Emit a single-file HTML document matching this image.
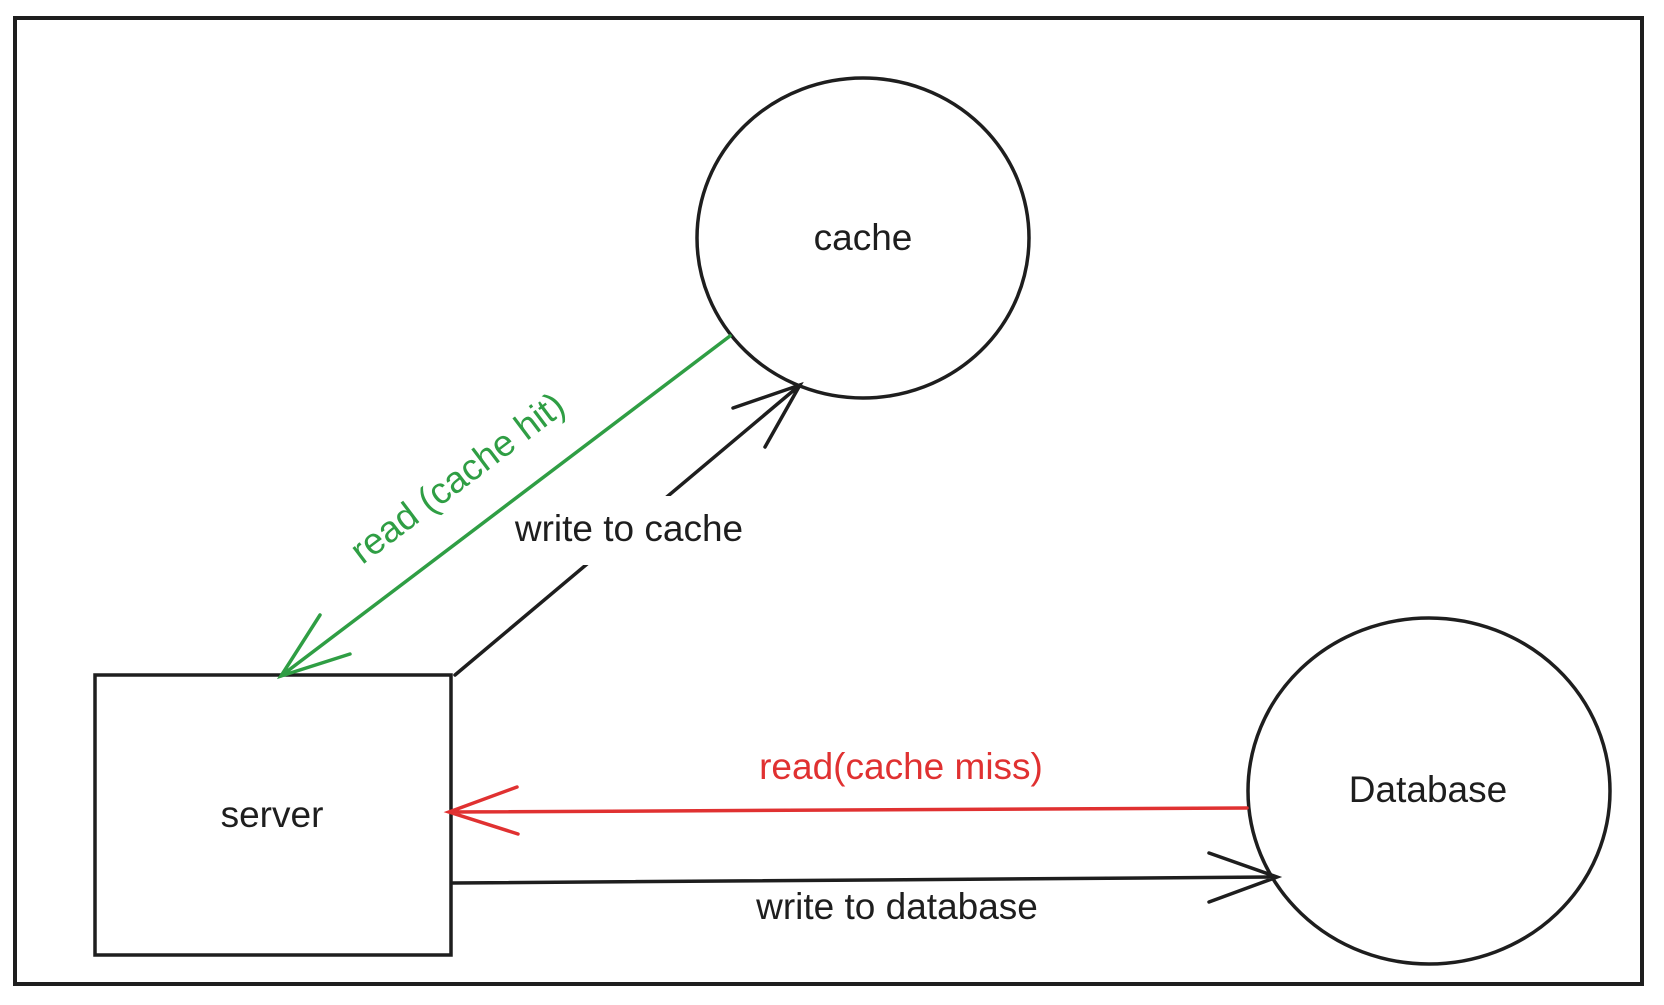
<!DOCTYPE html>
<html><head><meta charset="utf-8"><style>html,body{margin:0;padding:0;background:#fff}</style></head>
<body>
<svg width="1664" height="1000" viewBox="0 0 1664 1000" xmlns="http://www.w3.org/2000/svg" font-family="Liberation Sans, Arial, sans-serif">
<rect x="0" y="0" width="1664" height="1000" fill="#fff"/>
<rect x="15" y="18" width="1627" height="966" fill="none" stroke="#1e1e1e" stroke-width="4"/>
<ellipse cx="863" cy="238" rx="166" ry="160" fill="none" stroke="#1e1e1e" stroke-width="3.5"/>
<ellipse cx="1429" cy="791" rx="181" ry="173" fill="none" stroke="#1e1e1e" stroke-width="3.5"/>
<rect x="95" y="675" width="356" height="280" fill="none" stroke="#1e1e1e" stroke-width="3.5"/>
<g stroke-linecap="round" fill="none" stroke-width="3.5">
<path d="M730 336 L281 676 M320 615 L281 676 L350 654" stroke="#2f9e44"/>
<path d="M455 675 L800 385 M733 408 L800 385 L765 447" stroke="#1e1e1e"/>
<path d="M1247 808 L449 812 M517 787 L449 812 L518 834" stroke="#e03131"/>
<path d="M453 883 L1277 877 M1209 853 L1277 877 L1209 902" stroke="#1e1e1e"/>
</g>
<rect x="560" y="496" width="190" height="69" fill="#fff"/>
<g font-size="37" text-anchor="middle" dominant-baseline="middle" fill="#1e1e1e">
<text x="863" y="240">cache</text>
<text x="1428" y="792">Database</text>
<text x="272" y="817">server</text>
<text x="629" y="531">write to cache</text>
<text x="897" y="909">write to database</text>
<text x="901" y="769" fill="#e03131">read(cache miss)</text>
<text x="459" y="480" fill="#2f9e44" font-size="37" transform="rotate(-37 459 480)">read (cache hit)</text>
</g>
</svg>
</body></html>
